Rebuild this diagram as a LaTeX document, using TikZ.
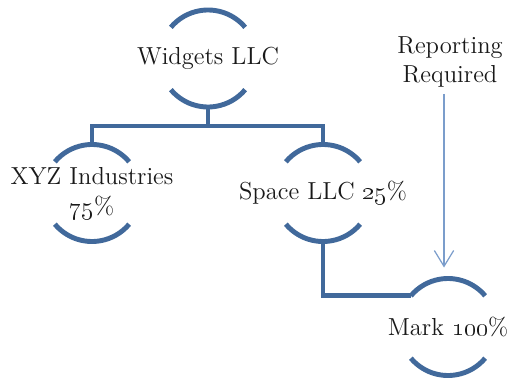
\documentclass[tikz,border=0pt]{standalone}
\usepackage{tikz}
\usetikzlibrary{arrows.meta, positioning}
\definecolor{ringblue}{HTML}{41699B}
\definecolor{noteblue}{HTML}{7B9DCB}

\begin{document}
\begin{tikzpicture}[font=\fontsize{14}{17}\selectfont,
    holder/.style={circle, minimum size=1.94cm, inner sep=0pt, outer sep=0pt},
    entity/.style={align=center, text=black!90},
    tie/.style={draw=ringblue, line width=2.8pt},
    notice/.style={draw=noteblue, line width=0.7pt, -{Straight Barb[length=9pt, width=11pt]}}]
\useasboundingbox (0,0) rectangle (10.2,-7.54);
% one ring per entity, open at the sides
\node[holder] (widgets) at (4.16,-1.17) {};
\node[holder] (xyz) at (1.84,-3.86) {};
\node[holder] (space) at (6.46,-3.86) {};
\node[holder] (mark) at (8.96,-6.54) {};
\foreach \n in {widgets, xyz, space, mark} {
    \draw[tie] (\n.40) arc[start angle=40, end angle=140, radius=0.97];
    \draw[tie] (\n.220) arc[start angle=220, end angle=320, radius=0.97];
}
\node[entity] (widgets-t) at (widgets) {Widgets LLC};
\node[entity] (xyz-t) at (xyz) {XYZ Industries\\\oldstylenums{75}\%};
\node[entity] (space-t) at (space) {Space LLC \oldstylenums{25}\%};
\node[entity] (mark-t) at (mark) {Mark \oldstylenums{100}\%};
\node[entity] (report) at (9.0,-1.24) {Reporting\\Required};
% ownership lines
\coordinate[below=0.38cm of widgets.south] (bar);
\draw[tie] (widgets.south) -- (bar);
\draw[tie] (xyz.north) |- (bar) -| (space.north);
\draw[tie] (space.south) |- (mark.140);
\draw[notice] ([xshift=-0.12cm]report.south) -- ([xshift=-0.08cm, yshift=0.22cm]mark.north);
\end{tikzpicture}
\end{document}
